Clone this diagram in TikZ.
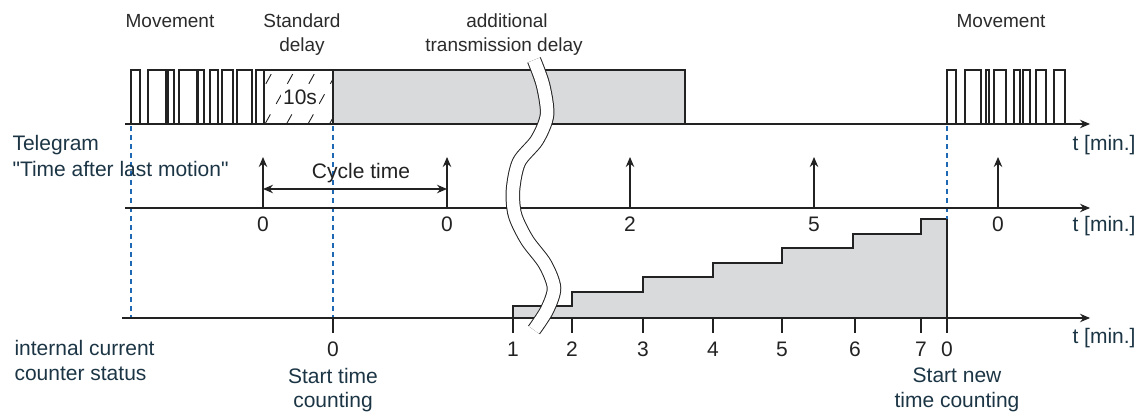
\documentclass[tikz,border=0pt]{standalone}
\usepackage{fontspec}
\setmainfont{Liberation Sans}[Ligatures=TeXOff]
\usetikzlibrary{arrows.meta}
\definecolor{boxgrey}{HTML}{D9DADC}
\definecolor{guideblue}{HTML}{1F69B4}
\definecolor{txt}{HTML}{1C3545}
\definecolor{toptxt}{HTML}{2B2B2B}
\definecolor{ink}{HTML}{222222}
\begin{document}
\begin{tikzpicture}[x=1pt,y=-1pt,>={Stealth[length=10pt,width=8.5pt]},line width=1.1pt,ink,
  lbl/.style={font=\fontsize{21}{24}\selectfont,text=txt,inner sep=0pt,anchor=base west},
  num/.style={font=\fontsize{21}{24}\selectfont,text=ink,inner sep=0pt,anchor=base},
  toplbl/.style={font=\fontsize{19}{24}\selectfont,text=toptxt,inner sep=0pt,anchor=base},
  guide/.style={draw=guideblue,line width=1.2pt,dash pattern=on 5pt off 4pt}]
\useasboundingbox (0,0) rectangle (1146,414);

% grey areas
\draw[fill=boxgrey] (333,124) |- (685,70) -- (685,124);
\draw[fill=boxgrey] (513,318) |- (572,306) |- (643,292) |- (713,277) |- (782,263)
  |- (853,248) |- (921,234) |- (947,219) -- (947,318);

% movement pulses
\foreach \a/\b in {131/140,148/166,168/174,179/197,198/204,210/218,222/233,237/252,256/264}
  \draw (\a,124) |- (\b,70) -- (\b,124);
\foreach \a/\b in {947/956,965/981,986/989,994/1006,1014/1020,1023/1030,1036/1046,1054/1065}
  \draw (\a,124) |- (\b,70) -- (\b,124);

% standard delay (hatched)
\begin{scope}
  \clip (264,70) rectangle (333,124);
  \foreach \h in {-3,...,3}
    \draw[line width=0.9pt,dash pattern=on 11pt off 12pt] (265+21.5*\h,124) -- ++(30,-54);
\end{scope}
\draw (264,124) rectangle (333,70);
\node[num,fill=white,inner sep=2pt] (delay10) at (300,105) {10s};

% guide lines
\draw[guide] (131,126) -- (131,318);
\draw[guide] (333,126) -- (333,318);
\draw[guide] (947,126) -- (947,219);

% axes
\draw[->] (125,124) -- (1090,124);
\draw[->] (125,208) -- (1090,208);
\draw[->] (122,318) -- (1090,318);

% telegrams
\foreach \x/\v in {263/0,447/0,630/2,814/5,998/0} {
  \draw[->] (\x,208) -- (\x,157);
  \node[num] at (\x,232) {\v};
}
\coordinate (cycA) at (263,189);
\coordinate (cycB) at (447,189);
\draw[<->] (cycA) -- (cycB);
\node[lbl,anchor=base,text=ink] (cycle) at (361,179) {Cycle time};

% counter ticks
\foreach \x/\v in {333/0,513/1,572/2,643/3,713/4,782/5,855/6,921/7,947/0} {
  \draw (\x,318) -- (\x,333);
  \node[num] at (\x,356) {\v};
}

% break
\draw[line width=1pt,double=white,double distance=12.5pt]
  plot[smooth] coordinates {(534,60) (543,85) (547,115) (537,140) (519,162) (513,190)
  (515,215) (527,240) (545,264) (554,288) (547,310) (534,330)};

% labels
\node[toplbl] (mov1) at (170,28) {Movement};
\node[toplbl] (std1) at (302,28) {Standard};
\node[toplbl] (std2) at (302,52) {delay};
\node[toplbl] (add1) at (507,28) {additional};
\node[toplbl] (add2) at (504,52) {transmission delay};
\node[toplbl] (mov2) at (1001,28) {Movement};

\node[lbl] (tel1) at (12,151) {Telegram};
\node[lbl] (tel2) at (12,177) {"Time after last motion"};
\node[lbl] (cnt1) at (14,355) {internal current};
\node[lbl] (cnt2) at (14,380) {counter status};

\node[lbl] (tA) at (1072,151) {t [min.]};
\node[lbl] (tB) at (1072,232) {t [min.]};
\node[lbl] (tC) at (1072,343) {t [min.]};

\node[lbl,anchor=base] (start1) at (333,383) {Start time};
\node[lbl,anchor=base] (start2) at (333,407) {counting};
\node[lbl,anchor=base] (new1) at (957,382) {Start new};
\node[lbl,anchor=base] (new2) at (957,407) {time counting};
\end{tikzpicture}
\end{document}
